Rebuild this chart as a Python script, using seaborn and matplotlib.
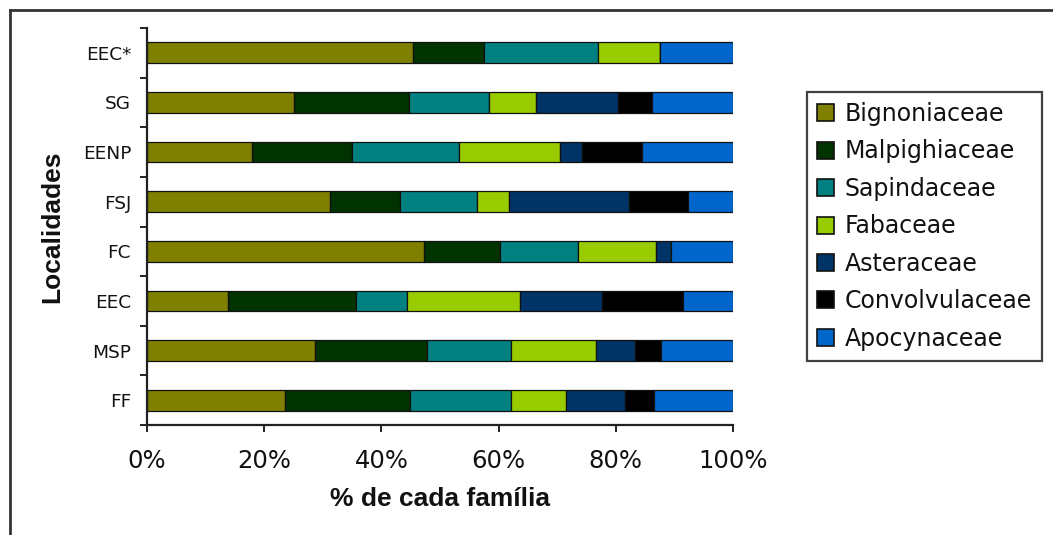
import matplotlib
matplotlib.use("Agg")
import matplotlib.pyplot as plt
from matplotlib.lines import Line2D
from matplotlib.patches import Patch
import numpy as np
import pandas as pd
import seaborn as sns

# Sites, top to bottom
localidades = ["EEC*", "SG", "EENP", "FSJ", "FC", "EEC", "MSP", "FF"]

# Share (%) of each family per site
bignoniaceae = [45.4, 25.0, 18.0, 31.3, 47.3, 13.8, 28.6, 23.6]
malpighiaceae = [12.1, 19.7, 16.9, 11.8, 13.0, 21.9, 19.2, 21.3]
sapindaceae = [19.4, 13.6, 18.3, 13.2, 13.2, 8.6, 14.4, 17.3]
fabaceae = [10.6, 8.1, 17.2, 5.5, 13.3, 19.4, 14.4, 9.3]
asteraceae = [0.0, 14.0, 3.8, 20.5, 2.7, 14.0, 6.6, 10.1]
convolvulaceae = [0.0, 5.7, 10.3, 10.1, 0.0, 13.8, 4.5, 4.9]
apocynaceae = [12.5, 13.9, 15.5, 7.6, 10.5, 8.5, 12.3, 13.5]

familias = ["Bignoniaceae", "Malpighiaceae", "Sapindaceae", "Fabaceae",
            "Asteraceae", "Convolvulaceae", "Apocynaceae"]
cores = ["#808000", "#003300", "#008080", "#99CC00",
         "#003366", "#000000", "#0066CC"]

x_ticks = [0, 20, 40, 60, 80, 100]
x_ticklabels = ["0%", "20%", "40%", "60%", "80%", "100%"]

series = [bignoniaceae, malpighiaceae, sapindaceae, fabaceae,
          asteraceae, convolvulaceae, apocynaceae]
df = pd.DataFrame({"Localidade": localidades})
for nome, vals in zip(familias, series):
    df[nome] = vals

W, H, DPI = 1053, 535, 100
fig = plt.figure(figsize=(W / DPI, H / DPI), dpi=DPI)
fig.patch.set_facecolor("white")

ax = fig.add_axes([147 / W, 1 - 425 / H, (733 - 147) / W, (425 - 28) / H])

# Stacked horizontal bars: each family starts where the previous ended
esquerda = np.zeros(len(localidades))
for nome, cor in zip(familias, cores):
    sns.barplot(data=df, y="Localidade", x=nome, order=localidades,
                orient="h", color=cor, saturation=1, errorbar=None,
                width=0.42, left=esquerda, edgecolor="#111111",
                linewidth=0.9, ax=ax)
    esquerda = esquerda + df[nome].to_numpy()

ax.set_xlim(0, 100)
ax.set_ylim(len(localidades) - 0.5, -0.5)

# Axis styling
for s in ["top", "right"]:
    ax.spines[s].set_visible(False)
for s in ["left", "bottom"]:
    ax.spines[s].set_linewidth(1.6)
    ax.spines[s].set_color("#222222")

ax.set_xticks(x_ticks)
ax.set_xticklabels(x_ticklabels)
ax.tick_params(axis="x", direction="out", length=5, width=1.4,
               color="#222222", pad=12, labelsize=17.5, labelcolor="#111111")

# Labels at category centres, tick marks between categories
ax.set_yticks(range(len(localidades)))
ax.set_yticklabels(localidades)
ax.tick_params(axis="y", which="major", length=0, pad=11.5,
               labelsize=13.3, labelcolor="#111111")
ax.set_yticks(np.arange(-0.5, len(localidades), 1.0), minor=True)
ax.tick_params(axis="y", which="minor", direction="out", length=5,
               width=1.4, color="#222222")

ax.set_xlabel("% de cada família", fontfamily="Liberation Sans",
              fontweight="bold", fontsize=19, color="#111111")
ax.set_ylabel("Localidades", fontfamily="Liberation Sans",
              fontweight="bold", fontsize=19, color="#111111")
ax.xaxis.set_label_coords(0.5, -0.155)
ax.yaxis.set_label_coords(-0.141, 0.5)

# Legend
handles = [Patch(facecolor=c, edgecolor="#111111", linewidth=1.2) for c in cores]
leg = fig.legend(handles, familias, loc="upper left",
                 bbox_to_anchor=(807 / W, 1 - 92 / H),
                 frameon=True, fancybox=False, shadow=False,
                 fontsize=17, handlelength=0.73, handleheight=0.73,
                 handletextpad=0.45, labelspacing=0.57, borderpad=0.42,
                 borderaxespad=0)
leg.get_frame().set_edgecolor("#111111")
leg.get_frame().set_linewidth(1.6)
for t in leg.get_texts():
    t.set_color("#111111")

# Outer frame of the figure (top and left edges)
fig.add_artist(Line2D([10 / W, 1.0], [1 - 10 / H, 1 - 10 / H],
                      transform=fig.transFigure, color="#333333", lw=2.0))
fig.add_artist(Line2D([10 / W, 10 / W], [0.0, 1 - 10 / H],
                      transform=fig.transFigure, color="#333333", lw=2.0))

fig.savefig("out.png", dpi=DPI, facecolor="white")
